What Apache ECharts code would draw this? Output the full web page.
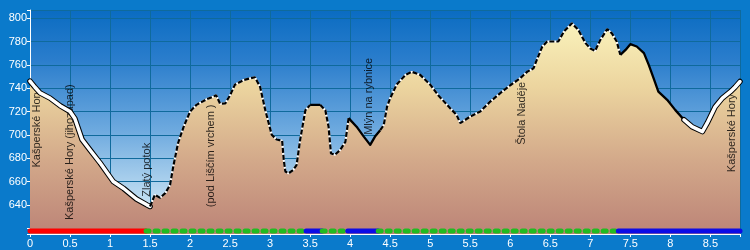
<!DOCTYPE html>
<html>
<head>
<meta charset="utf-8">
<script src="https://cdn.jsdelivr.net/npm/echarts@6/dist/echarts.min.js"></script>
<style>
html,body{margin:0;padding:0;background:#0a7acb;}
#c{width:750px;height:250px;}
</style>
</head>
<body>
<div id="c"></div>
<script>
// distance along route (km)
const distKm = [0,0.06,0.125,0.25,0.375,0.5,0.56,0.65,0.75,0.875,1.04,1.17,1.33,1.46,1.5,1.56,1.625,1.69,1.75,1.79,1.85,1.92,2.0,2.08,2.21,2.29,2.325,2.375,2.44,2.5,2.56,2.67,2.81,2.875,2.94,3.02,3.08,3.15,3.17,3.19,3.23,3.29,3.33,3.375,3.44,3.5,3.625,3.69,3.73,3.76,3.81,3.875,3.94,3.98,4.08,4.17,4.25,4.31,4.375,4.42,4.46,4.5,4.58,4.69,4.77,4.875,5.0,5.1,5.21,5.33,5.375,5.5,5.625,5.75,5.875,6.0,6.125,6.21,6.29,6.33,6.4,6.46,6.6,6.67,6.77,6.85,6.94,7.0,7.06,7.125,7.21,7.27,7.33,7.375,7.44,7.5,7.58,7.67,7.73,7.79,7.85,7.96,8.06,8.17,8.27,8.4,8.46,8.56,8.65,8.75,8.81,8.87];
// elevation (m)
const elevM = [746,741,736,731.5,725,720,714,696,687,676,660,654,645,640,638.6,648.6,646,650,657,673,693,707,720,725.7,730.6,732.8,734,726.6,727,734,743,747,749.4,741,721,700,696,695,678.6,668.6,667,670,674,695.7,721,725.7,725.7,721,707,684,683,687,694,714.3,707,698.5,691.4,698.5,704,708.6,724,731.5,743,751.4,754,751.4,743,734,725.7,717,710,715.7,720,728.5,735.7,742.5,748.6,754,757,764,775.7,780,780,788.5,795.7,790,778.6,774,772,781.4,790.6,787,780,768.6,772.8,777.7,775.7,770,760,748.6,737,730,721.4,712.9,707,702.8,710,724,731.5,737,741,745.7];

// profile line style sections [fromKm, toKm, style]
const lineSections = [
  [0, 1.5, 'double'], [1.5, 3.5, 'dashed'], [3.5, 3.625, 'solid'],
  [3.625, 3.98, 'dashed'], [3.98, 4.375, 'solid'], [4.375, 7.375, 'dashed'],
  [7.375, 8.17, 'solid'], [8.17, 8.87, 'double']
];
// route type bar [fromKm, toKm, type]
const routeSections = [
  [0, 1.45, 'red'], [1.45, 3.45, 'green'], [3.45, 3.65, 'blue'],
  [3.65, 3.97, 'green'], [3.97, 4.35, 'blue'], [4.35, 7.35, 'green'],
  [7.35, 8.87, 'blue']
];
// place names: [name, km, anchor elevation]
const placeNames = ['Kašperské Hory', 'Kašperské Hory (jihozápad)', 'Zlatý potok', '(pod Liščím vrchem )', 'Mlýn na rybnice', 'Štola Naděje', 'Kašperské Hory'];
const placeKm = [0.09, 0.5, 1.467, 2.26, 4.24, 6.15, 8.775];
const placeElev = [672, 627, 647, 638, 700, 691.5, 668];

const xTicks = [0,0.5,1,1.5,2,2.5,3,3.5,4,4.5,5,5.5,6,6.5,7,7.5,8,8.5];
const yTicks = [640,660,680,700,720,740,760,780,800];

const profile = distKm.map((d, i) => [d, elevM[i]]);
function seg(a, b) { return profile.filter(p => p[0] >= a - 1e-9 && p[0] <= b + 1e-9); }

const chart = echarts.init(document.getElementById('c'));
const G = echarts.graphic.LinearGradient;
const series = [];

series.push({
  type: 'line', data: profile, showSymbol: false, silent: true, z: 1,
  lineStyle: { width: 0 },
  areaStyle: { opacity: 1, color: new G(0, 0, 0, 1, [
    { offset: 0, color: '#faf2bb' }, { offset: 0.3, color: '#ecd59f' },
    { offset: 0.65, color: '#d3a98a' }, { offset: 1, color: '#bc8477' }]) }
});

series.push({
  type: 'scatter', z: 2, silent: true, symbolSize: 0,
  data: placeNames.map((n, i) => ({ name: n, value: [placeKm[i], placeElev[i]] })),
  label: { show: true, position: 'inside', formatter: p => p.name, rotate: 90,
    align: 'left', verticalAlign: 'middle', color: '#000', fontSize: 11,
    fontFamily: 'Liberation Sans, Arial, sans-serif' }
});

lineSections.forEach(([a, b, s]) => {
  const d = seg(a, b);
  if (s === 'double') {
    series.push({ type: 'line', data: d, showSymbol: false, silent: true, z: 3,
      lineStyle: { color: '#000', width: 5.5, cap: 'round', join: 'round' } });
    series.push({ type: 'line', data: d, showSymbol: false, silent: true, z: 4,
      lineStyle: { color: '#fff', width: 3.5, cap: 'round', join: 'round' } });
  } else if (s === 'dashed') {
    series.push({ type: 'line', data: d, showSymbol: false, silent: true, z: 3,
      lineStyle: { color: '#fff', width: 2 } });
    series.push({ type: 'line', data: d, showSymbol: false, silent: true, z: 4,
      lineStyle: { color: '#000', width: 2.2, type: [5, 2] } });
  } else {
    series.push({ type: 'line', data: d, showSymbol: false, silent: true, z: 4,
      lineStyle: { color: '#000', width: 2.3, join: 'round' } });
  }
});

const routeColors = { red: '#ff0000', green: '#22bb22', blue: '#0c0ce6' };
routeSections.forEach(([a, b, t]) => {
  series.push({ type: 'line', showSymbol: false, silent: true, z: 5,
    data: [[a, 617.6], [b, 617.6]],
    lineStyle: { color: routeColors[t], width: 5, cap: 'round',
      type: t === 'green' ? [3, 6] : 'solid' } });
});

chart.setOption({
  animation: false,
  backgroundColor: '#0a7acb',
  grid: { left: 30, right: 10, top: 10, bottom: 16, show: true, borderWidth: 0,
    backgroundColor: new G(0, 0, 0, 1, [
      { offset: 0, color: '#0a6cc2' }, { offset: 0.22, color: '#2a7dcc' },
      { offset: 0.54, color: '#6eaadf' }, { offset: 0.8, color: '#b4d6ef' },
      { offset: 1, color: '#dff0fa' }]) },
  xAxis: {
    type: 'value', min: 0, max: 8.87, interval: 0.5,
    axisLine: { show: true, onZero: false, lineStyle: { color: '#fff', width: 1 } },
    axisTick: { show: true, length: 3, lineStyle: { color: '#fff' } },
    axisLabel: { color: '#fff', fontSize: 11, margin: 4, fontFamily: 'Liberation Sans, Arial, sans-serif',
      formatter: v => xTicks.some(t => Math.abs(t - v) < 1e-6) ? String(v) : '' },
    splitLine: { show: true, lineStyle: { color: '#0f6a9c', width: 1 } }
  },
  yAxis: {
    type: 'value', min: 615, max: 807, splitNumber: 10, minInterval: 20, maxInterval: 20,
    axisLine: { show: true, onZero: false, lineStyle: { color: '#fff', width: 1 } },
    axisTick: { show: true, length: 3, lineStyle: { color: '#fff' } },
    axisLabel: { color: '#fff', fontSize: 11, margin: 3, fontFamily: 'Liberation Sans, Arial, sans-serif',
      formatter: v => yTicks.includes(v) ? String(v) : '' },
    splitLine: { show: true, lineStyle: { color: '#0f6a9c', width: 1 } }
  },
  series: series
});
</script>
</body>
</html>
